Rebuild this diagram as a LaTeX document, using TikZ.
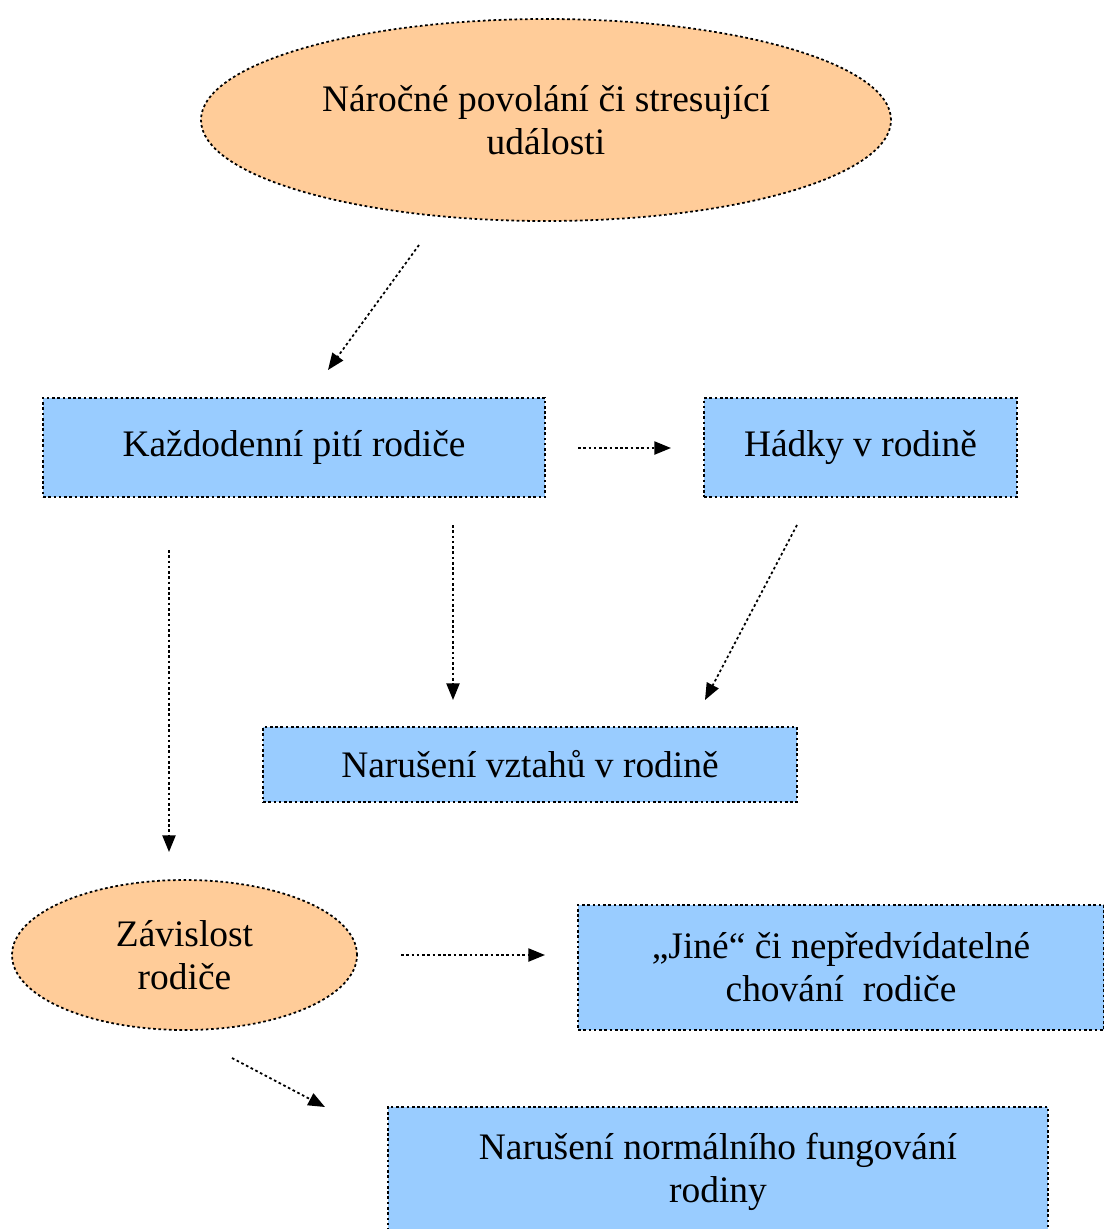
\documentclass[tikz,border=0pt]{standalone}
\usepackage{fontspec}
\setmainfont{Liberation Serif}
\usetikzlibrary{shapes.geometric,arrows.meta}

\tikzset{
  dotline/.style={line width=1pt, dash pattern=on 1.5pt off 1.5pt},
  bluebox/.style={dotline, draw, fill=boxblue, rectangle, align=center, inner sep=0pt},
  orangeoval/.style={dotline, draw, fill=ovalorange, ellipse, align=center, inner sep=0pt},
  flow/.style={dotline, -{Triangle[length=9.5pt,width=7.5pt]}}
}
\definecolor{boxblue}{RGB}{153,204,255}
\definecolor{ovalorange}{RGB}{255,204,153}

\begin{document}
\begin{tikzpicture}[font=\fontsize{21.3}{24.6}\selectfont]
\useasboundingbox (0,0) rectangle (22.08,-24.58);
\begin{scope}
\clip (0,0) rectangle (22.08,-24.58);

% ovals
\node[orangeoval, minimum width=13.8cm, minimum height=4.04cm] (stress) at (10.92,-2.4) {Náročné povolání či stresující\\události};
\node[orangeoval, minimum width=6.9cm, minimum height=3cm] (zavislost) at (3.69,-19.1) {Závislost\\rodiče};

% boxes
\node[bluebox, minimum width=10.04cm, minimum height=1.98cm] (piti) at (5.88,-8.95) {Každodenní pití rodiče};
\node[bluebox, minimum width=6.26cm, minimum height=1.98cm] (hadky) at (17.21,-8.95) {Hádky v rodině};
\node[bluebox, minimum width=10.68cm, minimum height=1.5cm] (vztahy) at (10.6,-15.29) {Narušení vztahů v rodině};
\node[bluebox, minimum width=10.52cm, minimum height=2.5cm] (jine) at (16.82,-19.35) {„Jiné“ či nepředvídatelné\\chování\ \ rodiče};
\node[bluebox, minimum width=13.2cm, minimum height=2.6cm] (fungovani) at (14.36,-23.44) {Narušení normálního fungování\\rodiny};
\end{scope}

% arrow ends
\coordinate (s1) at (8.38,-4.9);    \coordinate (e1) at (6.56,-7.4);
\coordinate (s2) at (11.56,-8.96);  \coordinate (e2) at (13.42,-8.96);
\coordinate (s3) at (9.06,-10.5);   \coordinate (e3) at (9.06,-14.0);
\coordinate (s4) at (15.94,-10.5);  \coordinate (e4) at (14.1,-14.0);
\coordinate (s5) at (3.38,-11.0);   \coordinate (e5) at (3.38,-17.04);
\coordinate (s6) at (8.02,-19.1);   \coordinate (e6) at (10.9,-19.1);
\coordinate (s7) at (4.64,-21.16);  \coordinate (e7) at (6.5,-22.14);

\draw[flow] (s1) -- (e1);
\draw[flow] (s2) -- (e2);
\draw[flow] (s3) -- (e3);
\draw[flow] (s4) -- (e4);
\draw[flow] (s5) -- (e5);
\draw[flow] (s6) -- (e6);
\draw[flow] (s7) -- (e7);
\end{tikzpicture}
\end{document}
